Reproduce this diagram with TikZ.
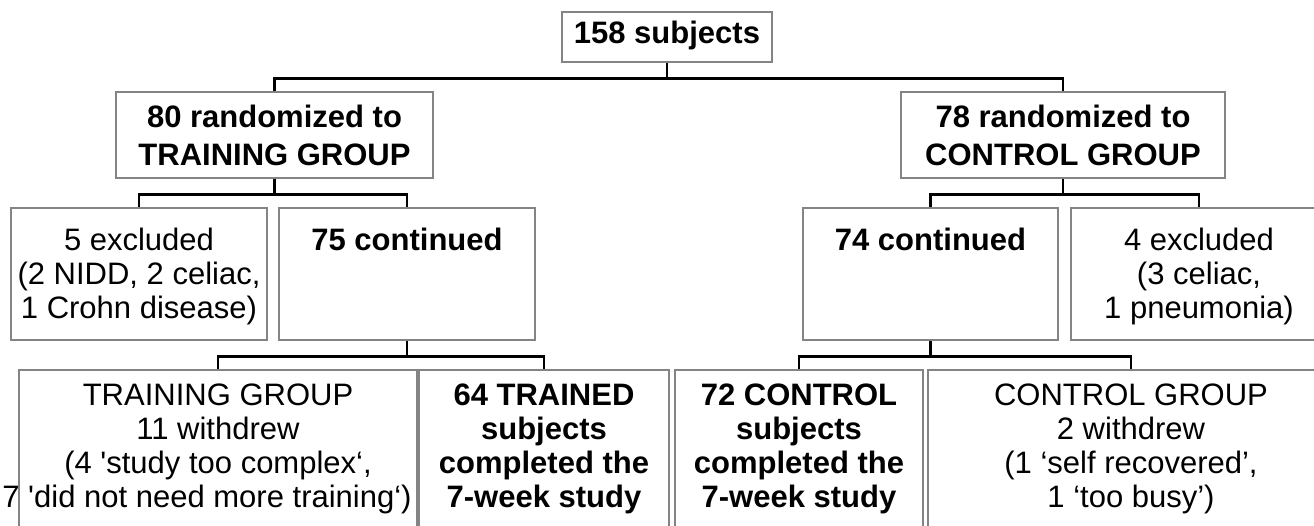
\documentclass[tikz,border=0pt]{standalone}
\usepackage{fontspec}
\setmainfont{Liberation Sans}
\definecolor{framegray}{RGB}{132,132,132}
\newcommand{\boxtext}[4]{\parbox[c][#2pt][t]{#1pt}{\centering\vspace*{#3pt}\strut #4}}

\begin{document}
\begin{tikzpicture}[x=1pt, y=-1pt,
    box/.style={draw=framegray, line width=2.5pt, inner sep=0pt, font=\fontsize{31}{34}\selectfont},
    boldbox/.style={box, font=\fontsize{31}{34}\selectfont\bfseries},
    headbox/.style={box, font=\fontsize{31}{38}\selectfont\bfseries},
    link/.style={line width=2.5pt, black}]
    \useasboundingbox (0,0) rectangle (1314,525);
    \clip (0,0) rectangle (1314,525);

    % Total
    \node[boldbox] (all) at (667,37) {\boxtext{210}{50}{7.2}{158 subjects}};

    % Grupos
    \node[headbox] (trn) at (274.5,135) {\boxtext{317}{86}{8.4}{80 randomized to\\TRAINING GROUP}};
    \node[headbox] (ctl) at (1063,135) {\boxtext{324}{86}{8.4}{78 randomized to\\CONTROL GROUP}};

    % Exclusiones
    \node[box] (exL) at (139,274) {\boxtext{256}{132}{18.2}{5 excluded\\(2 NIDD, 2 celiac,\\1 Crohn disease)}};
    \node[boldbox] (conL) at (407,274) {\boxtext{256}{132}{18.2}{75 continued}};
    \node[boldbox] (conR) at (930.5,274) {\boxtext{255}{132}{18.2}{74 continued}};
    \node[box] (exR) at (1199,274) {\boxtext{256}{132}{18.2}{4 excluded\\(3 celiac,\\1 pneumonia)}};

    % Resultado final
    \node[box] (wdL) at (218,455) {\boxtext{398}{170}{12}{TRAINING GROUP\\11 withdrew\\(4 \textquotesingle study too complex‘,\\\hspace*{-22pt}\makebox[0pt]{7 \textquotesingle did not need more training‘)}}};
    \node[boldbox] (trd) at (544,455) {\boxtext{250}{170}{12}{64 TRAINED\\subjects\\completed the\\7-week study}};
    \node[boldbox] (ctd) at (799,455) {\boxtext{248}{170}{12}{72 CONTROL\\subjects\\completed the\\7-week study}};
    \node[box] (wdR) at (1131,455) {\boxtext{406}{170}{12}{CONTROL GROUP\\2 withdrew\\(1 ‘self recovered’,\\1 ‘too busy’)}};

    % Conectores
    \foreach \a/\b in {all/trn, all/ctl, trn/exL, trn/conL, ctl/conR, ctl/exR,
                       conL/wdL, conL/trd, conR/ctd, conR/wdR} {
        \draw[link] (\a.south) -- ++(0,15) -| (\b.north);
    }
\end{tikzpicture}
\end{document}
